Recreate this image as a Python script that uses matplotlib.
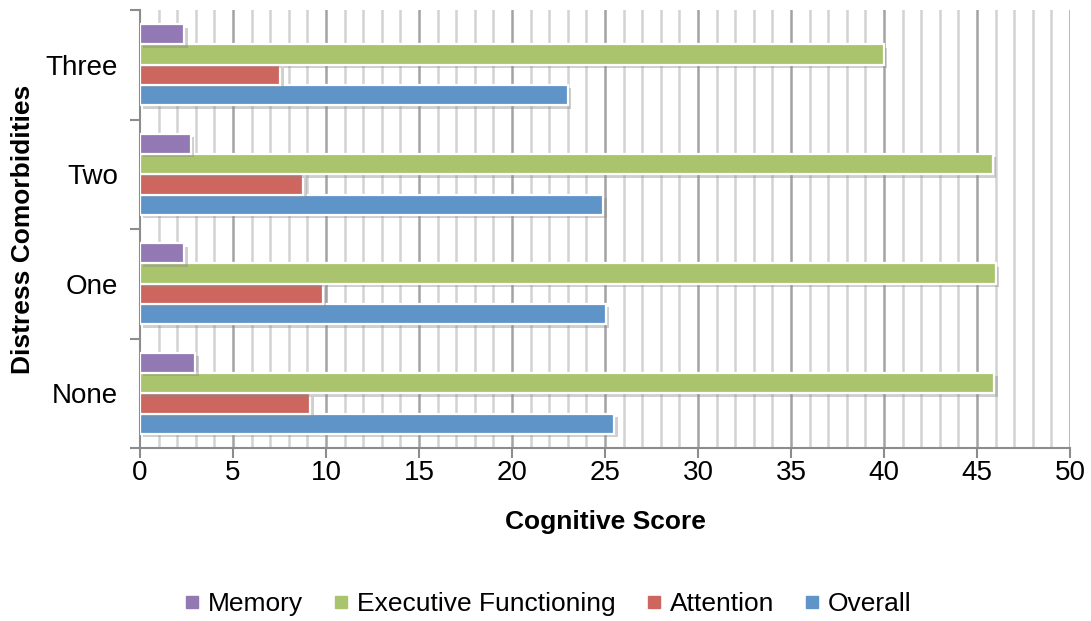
import matplotlib
matplotlib.use("Agg")
import matplotlib.pyplot as plt
import matplotlib.patheffects as pe
from matplotlib.lines import Line2D
import numpy as np

plt.rcParams['font.family'] = ['Liberation Sans', 'DejaVu Sans']

categories = ["None", "One", "Two", "Three"]
series_names = ["Memory", "Executive Functioning", "Attention", "Overall"]
memory = [2.97, 2.38, 2.72, 2.38]
executive = [45.93, 46.0, 45.84, 40.0]
attention = [9.16, 9.84, 8.78, 7.53]
overall = [25.5, 25.05, 24.9, 23.0]
xticks = [0, 5, 10, 15, 20, 25, 30, 35, 40, 45, 50]

colors = {"Memory": "#9279B3", "Executive Functioning": "#A9C46D",
          "Attention": "#CE6660", "Overall": "#5E94C8"}

fig = plt.figure(figsize=(10.91, 6.21), dpi=100)
W, H = 1091, 621
ax = fig.add_axes([140 / W, 1 - 448 / H, (1070 - 140) / W, (448 - 10) / H])

y = np.arange(len(categories))
w = 0.185
data = [("Overall", overall, -1.5), ("Attention", attention, -0.5),
        ("Executive Functioning", executive, 0.5), ("Memory", memory, 1.5)]
shadow = [pe.SimplePatchShadow(offset=(2.5, -2.5), shadow_rgbFace='#888888', alpha=0.4), pe.Normal()]
for name, vals, off in data:
    bars = ax.barh(y + off * w, vals, height=w, color=colors[name],
                   edgecolor='white', linewidth=1.6, zorder=3)
    for b in bars:
        b.set_path_effects(shadow)

ax.set_xlim(0, 50)
ax.set_ylim(-0.5, 3.5)

# grid
for xv in range(1, 51):
    major = xv % 5 == 0
    ax.axvline(xv, color='#a3a3a3' if major else '#d2d2d2', lw=1.8, zorder=1)

ax.set_xticks(xticks)
ax.set_xticklabels([str(t) for t in xticks], fontsize=20)
ax.set_yticks(y)
ax.set_yticklabels(categories, fontsize=20)
ax.tick_params(axis='y', length=0, pad=16)
ax.set_yticks([-0.5, 0.5, 1.5, 2.5, 3.5], minor=True)
ax.tick_params(axis='y', which='minor', length=7, width=1.5, color='#8c8c8c')
ax.tick_params(axis='x', length=7, width=1.5, color='#8c8c8c', pad=2)

for s in ['top', 'right']:
    ax.spines[s].set_visible(False)
for s in ['left', 'bottom']:
    ax.spines[s].set_color('#8c8c8c')
    ax.spines[s].set_linewidth(1.5)

ax.set_xlabel("Cognitive Score", fontsize=19, fontweight='bold')
ax.set_ylabel("Distress Comorbidities", fontsize=19, fontweight='bold')
ax.xaxis.set_label_coords((605 - 140) / 930, (448 - 522) / 438)
ax.xaxis.label.set_va('center')
ax.yaxis.set_label_coords((23 - 140) / 930, (448 - 229) / 438)
ax.yaxis.label.set_va('center')

handles = [Line2D([], [], marker='s', linestyle='none', markersize=8,
                  markerfacecolor=colors[n], markeredgecolor=colors[n]) for n in series_names]
fig.legend(handles, series_names, loc='center', bbox_to_anchor=(0.502, 1 - 604 / H),
           ncol=4, frameon=False, fontsize=19, handlelength=0.6, handletextpad=0.3,
           columnspacing=1.15)

fig.savefig("out.png", dpi=100)
